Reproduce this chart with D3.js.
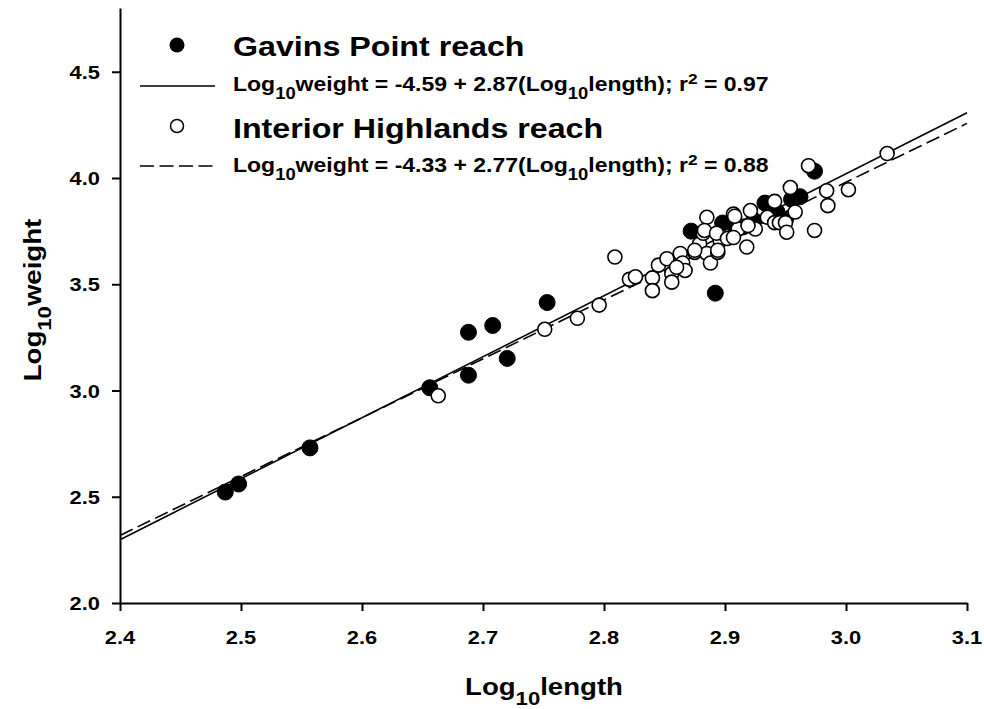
<!DOCTYPE html>
<html><head><meta charset="utf-8">
<script src="https://cdn.jsdelivr.net/npm/d3@7"></script>
<style>body{margin:0;background:#fff}svg{display:block}</style>
</head><body>
<svg id="chart" width="984" height="709"></svg>
<script>
// ---- data ----
const xTicks = [2.4, 2.5, 2.6, 2.7, 2.8, 2.9, 3.0, 3.1];
const yTicks = [2.0, 2.5, 3.0, 3.5, 4.0, 4.5];

const gavinsX = [2.487, 2.498, 2.557, 2.656, 2.688, 2.688, 2.708, 2.720, 2.753, 2.892, 2.872, 2.898, 2.906, 2.915, 2.924, 2.933, 2.943, 2.950, 2.955, 2.962, 2.974];
const gavinsY = [2.522, 2.560, 2.730, 3.013, 3.072, 3.274, 3.306, 3.151, 3.414, 3.458, 3.750, 3.788, 3.785, 3.770, 3.800, 3.882, 3.840, 3.805, 3.900, 3.912, 4.032];

const interiorX = [2.663, 2.751, 2.778, 2.796, 2.809, 2.821, 2.826, 2.840, 2.840, 2.845, 2.852, 2.856, 2.856, 2.863, 2.865, 2.867, 2.875, 2.879, 2.882, 2.885, 2.888, 2.894, 2.896, 2.885, 2.883, 2.893, 2.875, 2.894, 2.907, 2.902, 2.911, 2.918, 2.921, 2.925, 2.935, 2.941, 2.941, 2.945, 2.950, 2.951, 2.954, 2.958, 2.974, 2.969, 2.984, 2.985, 3.002, 3.034, 2.908, 2.919, 2.907, 2.860];
const interiorY = [2.975, 3.288, 3.340, 3.402, 3.628, 3.523, 3.535, 3.530, 3.470, 3.590, 3.620, 3.550, 3.510, 3.645, 3.600, 3.565, 3.650, 3.690, 3.740, 3.645, 3.600, 3.650, 3.705, 3.815, 3.753, 3.740, 3.660, 3.660, 3.830, 3.715, 3.760, 3.675, 3.847, 3.760, 3.815, 3.890, 3.790, 3.790, 3.790, 3.745, 3.955, 3.840, 3.753, 4.058, 3.940, 3.870, 3.945, 4.115, 3.820, 3.776, 3.720, 3.580];

// regression: [intercept, slope]
const gavinsFit = [-4.59, 2.87];
const interiorFit = [-4.33, 2.77];

const seriesNames = ["Gavins Point reach", "Interior Highlands reach"];

// ---- layout ----
const svg = d3.select("#chart");
const mLeft = 120, mRight = 967, mTop = 8, mBottom = 603;
const SX = 1.15; // horizontal text stretch
const x = d3.scaleLinear().domain([2.4, 3.1]).range([mLeft, mRight]);
const y = d3.scaleLinear().domain([2.0, 4.8]).range([mBottom, mTop]);
const FONT = "'Liberation Sans', Arial, Helvetica, sans-serif";

function richText(parent, px, py, segs, size, anchor, rot) {
  const g = parent.append("g")
    .attr("transform", `translate(${px},${py})` + (rot ? ` rotate(${rot})` : "") + ` scale(${SX},1)`);
  const t = g.append("text")
    .attr("font-family", FONT).attr("font-weight", "bold")
    .attr("font-size", size).attr("text-anchor", anchor || "start").attr("fill", "#000");
  let cur = 0;
  segs.forEach(s => {
    let target = 0, fs = size;
    if (s.sub) { target = 0.42 * size; fs = 0.8 * size; }
    if (s.sup) { target = -0.36 * size; fs = 0.75 * size; }
    t.append("tspan").attr("font-size", fs).attr("dy", target - cur).text(s.t);
    cur = target;
  });
  return g;
}

// ---- regression lines (under points) ----
const xd = x.domain();
const lineGen = d3.line().x(d => x(d[0])).y(d => y(d[1]));
svg.append("path")
  .attr("d", lineGen(xd.map(v => [v, gavinsFit[0] + gavinsFit[1] * v])))
  .attr("fill", "none").attr("stroke", "#000").attr("stroke-width", 1.6);
svg.append("path")
  .attr("d", lineGen(xd.map(v => [v, interiorFit[0] + interiorFit[1] * v])))
  .attr("fill", "none").attr("stroke", "#000").attr("stroke-width", 1.6)
  .attr("stroke-dasharray", "14,5.5");

// ---- points ----
svg.append("g").selectAll("circle").data(d3.range(gavinsX.length)).join("circle")
  .attr("cx", i => x(gavinsX[i])).attr("cy", i => y(gavinsY[i])).attr("r", 8)
  .attr("fill", "#000").attr("stroke", "#000").attr("stroke-width", 1);
svg.append("g").selectAll("circle").data(d3.range(interiorX.length)).join("circle")
  .attr("cx", i => x(interiorX[i])).attr("cy", i => y(interiorY[i])).attr("r", 7)
  .attr("fill", "#fff").attr("stroke", "#000").attr("stroke-width", 1.6);

// ---- axes ----
const xAxis = svg.append("g").attr("transform", `translate(0,${mBottom})`)
  .call(d3.axisBottom(x).tickValues(xTicks).tickSize(8).tickSizeOuter(0).tickFormat(() => ""));
const yAxis = svg.append("g").attr("transform", `translate(${mLeft},0)`)
  .call(d3.axisLeft(y).tickValues(yTicks).tickSize(8).tickSizeOuter(0).tickFormat(() => ""));
[xAxis, yAxis].forEach(a => {
  a.selectAll("path,line").attr("stroke", "#000").attr("stroke-width", 2);
});
const fmt = d3.format(".1f");
xTicks.forEach(v => {
  const g = svg.append("g").attr("transform", `translate(${x(v)},${mBottom + 41}) scale(${SX},1)`);
  g.append("text").attr("font-family", FONT).attr("font-weight", "bold").attr("font-size", 19)
    .attr("text-anchor", "middle").text(fmt(v));
});
yTicks.forEach(v => {
  const g = svg.append("g").attr("transform", `translate(${mLeft - 20},${y(v) + 7}) scale(${SX},1)`);
  g.append("text").attr("font-family", FONT).attr("font-weight", "bold").attr("font-size", 19)
    .attr("text-anchor", "end").text(fmt(v));
});

// ---- axis titles ----
richText(svg, 544, 695, [{t: "Log"}, {t: "10", sub: true}, {t: "length"}], 24, "middle");
richText(svg, 41, 300, [{t: "Log"}, {t: "10", sub: true}, {t: "weight"}], 24, "middle", -90);

// ---- legend ----
const lg = svg.append("g");
lg.append("circle").attr("cx", 177).attr("cy", 45).attr("r", 7.5).attr("fill", "#000");
richText(lg, 233, 56, [{t: seriesNames[0]}], 28, "start");
lg.append("line").attr("x1", 140).attr("x2", 215).attr("y1", 86).attr("y2", 86)
  .attr("stroke", "#000").attr("stroke-width", 1.5);
richText(lg, 233, 91, [{t: "Log"}, {t: "10", sub: true}, {t: "weight = " + gavinsFit[0].toFixed(2) + " + " + gavinsFit[1].toFixed(2) + "(Log"}, {t: "10", sub: true}, {t: "length); r"}, {t: "2", sup: true}, {t: " = 0.97"}], 20, "start");
lg.append("circle").attr("cx", 177).attr("cy", 126).attr("r", 6.5).attr("fill", "#fff")
  .attr("stroke", "#000").attr("stroke-width", 1.5);
richText(lg, 233, 138, [{t: seriesNames[1]}], 28, "start");
lg.append("line").attr("x1", 140).attr("x2", 215).attr("y1", 166).attr("y2", 166)
  .attr("stroke", "#000").attr("stroke-width", 1.5).attr("stroke-dasharray", "14,5.5");
richText(lg, 233, 172, [{t: "Log"}, {t: "10", sub: true}, {t: "weight = " + interiorFit[0].toFixed(2) + " + " + interiorFit[1].toFixed(2) + "(Log"}, {t: "10", sub: true}, {t: "length); r"}, {t: "2", sup: true}, {t: " = 0.88"}], 20, "start");
</script>
</body></html>
